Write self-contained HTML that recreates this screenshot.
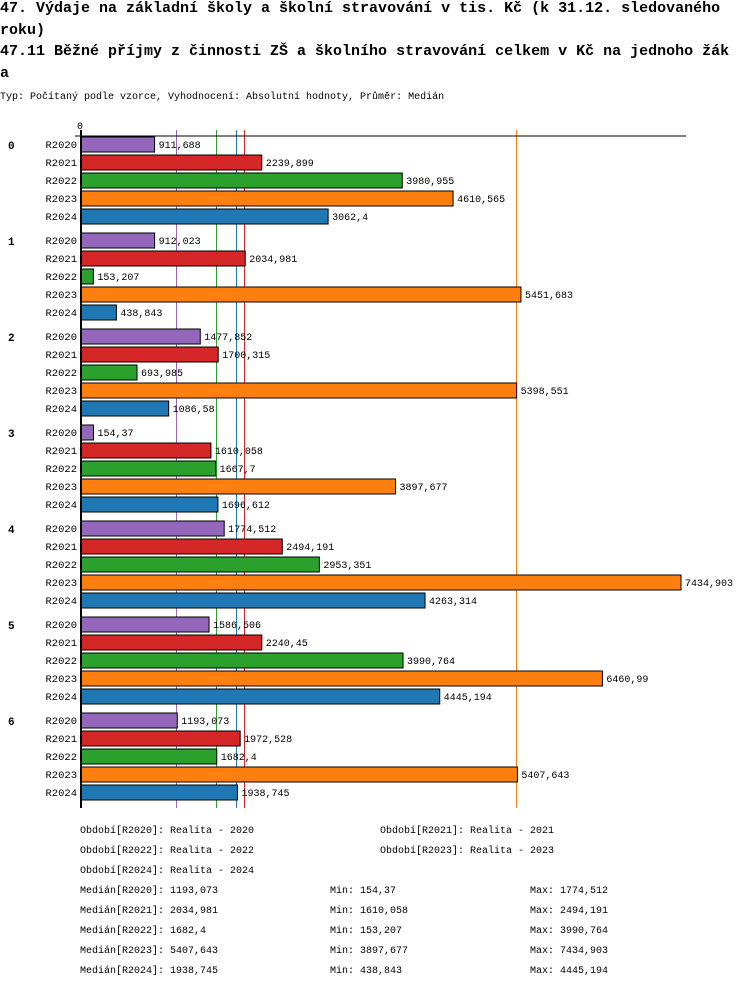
<!DOCTYPE html>
<html><head><meta charset="utf-8"><style>
body{margin:0;background:#fff;width:750px;height:988px;overflow:hidden;font-family:"Liberation Mono",monospace}
.t{position:absolute;left:0;font-weight:bold;font-size:15px;white-space:nowrap;line-height:22px}
</style></head><body>
<div class="t" style="top:-2px">47. Výdaje na základní školy a školní stravování v tis. Kč (k 31.12. sledovaného<br>roku)</div>
<div class="t" style="top:41px">47.11 Běžné příjmy z činnosti ZŠ a školního stravování celkem v Kč na jednoho žák<br>a</div>
<div style="position:absolute;left:0;top:91px;font-size:10px;line-height:14px">Typ: Počítaný podle vzorce, Vyhodnocení: Absolutní hodnoty, Průměr: Medián</div>
<svg id="c" width="750" height="988" style="position:absolute;left:0;top:0"></svg>
<script>
const groups=['0','1','2','3','4','5','6'];
const series=['R2020','R2021','R2022','R2023','R2024'];
const colors=['#9467bd','#d62728','#2ca02c','#ff7f0e','#1f77b4'];
const R2020=[911.688,912.023,1477.852,154.37,1774.512,1586.506,1193.073];
const R2021=[2239.899,2034.981,1700.315,1610.058,2494.191,2240.45,1972.528];
const R2022=[3980.955,153.207,693.985,1667.7,2953.351,3990.764,1682.4];
const R2023=[4610.565,5451.683,5398.551,3897.677,7434.903,6460.99,5407.643];
const R2024=[3062.4,438.843,1086.58,1696.612,4263.314,4445.194,1938.745];
const labels=[
['911,688','912,023','1477,852','154,37','1774,512','1586,506','1193,073'],
['2239,899','2034,981','1700,315','1610,058','2494,191','2240,45','1972,528'],
['3980,955','153,207','693,985','1667,7','2953,351','3990,764','1682,4'],
['4610,565','5451,683','5398,551','3897,677','7434,903','6460,99','5407,643'],
['3062,4','438,843','1086,58','1696,612','4263,314','4445,194','1938,745']];
const medians=[1193.073,2034.981,1682.4,5407.643,1938.745];
const mins=['154,37','1610,058','153,207','3897,677','438,843'];
const maxs=['1774,512','2494,191','3990,764','7434,903','4445,194'];
const medLabels=['1193,073','2034,981','1682,4','5407,643','1938,745'];
const data=[R2020,R2021,R2022,R2023,R2024];
const NS='http://www.w3.org/2000/svg';
const svg=document.getElementById('c');
const x=v=>81+v*600/7434.903;
const y=(g,s)=>136+g*96+s*18;
function mk(t,a,txt){const e=document.createElementNS(NS,t);for(const k in a)e.setAttribute(k,a[k]);if(txt!=null)e.textContent=txt;svg.appendChild(e);return e;}
medians.forEach((m,i)=>{const xx=Math.round(x(m))-0.5;const l=mk('line',{x1:xx,x2:xx,y1:130,y2:808,stroke:colors[i],'stroke-width':1,'shape-rendering':'crispEdges'});

});
groups.forEach((g,gi)=>{
 const gl=mk('text',{x:8,y:y(gi,0)+13,'font-size':11,'font-weight':'bold','font-family':'Liberation Mono'},g);
 
 
 series.forEach((s,si)=>{
  const yy=y(gi,si);
  const sl=mk('text',{x:77,y:yy+12,'font-size':10.5,'text-anchor':'end','font-family':'Liberation Mono'},s);
  
  
  const v=data[si][gi];
  const r=mk('rect',{x:81,y:yy+1,width:x(v)-81,height:15,fill:colors[si],stroke:'#000','stroke-width':1});
  
  
  const vl=mk('text',{x:x(v)+4,y:yy+12,'font-size':10,'font-family':'Liberation Mono'},labels[si][gi]);
  
  
 });
});
const ax=mk('line',{x1:75,x2:686,y1:136,y2:136,stroke:'#000','stroke-width':1});


const ay=mk('line',{x1:81,x2:81,y1:130,y2:808,stroke:'#000','stroke-width':2});


const z=mk('text',{x:77,y:129,'font-size':10,'font-family':'Liberation Mono'},'0');


const leg=[[80,833,'Období[R2020]: Realita - 2020'],[380,833,'Období[R2021]: Realita - 2021'],[80,853,'Období[R2022]: Realita - 2022'],[380,853,'Období[R2023]: Realita - 2023'],[80,873,'Období[R2024]: Realita - 2024']];
leg.forEach(l=>{const t=mk('text',{x:l[0],y:l[1],'font-size':10,'font-family':'Liberation Mono'},l[2]);

});
series.forEach((s,i)=>{const yy=893+i*20;
 const a=mk('text',{x:80,y:yy,'font-size':10,'font-family':'Liberation Mono'},'Medián['+s+']: '+medLabels[i]);
 
 
 const b=mk('text',{x:330,y:yy,'font-size':10,'font-family':'Liberation Mono'},'Min: '+mins[i]);
 
 
 const c=mk('text',{x:530,y:yy,'font-size':10,'font-family':'Liberation Mono'},'Max: '+maxs[i]);
 
 
});
</script>
</body></html>
